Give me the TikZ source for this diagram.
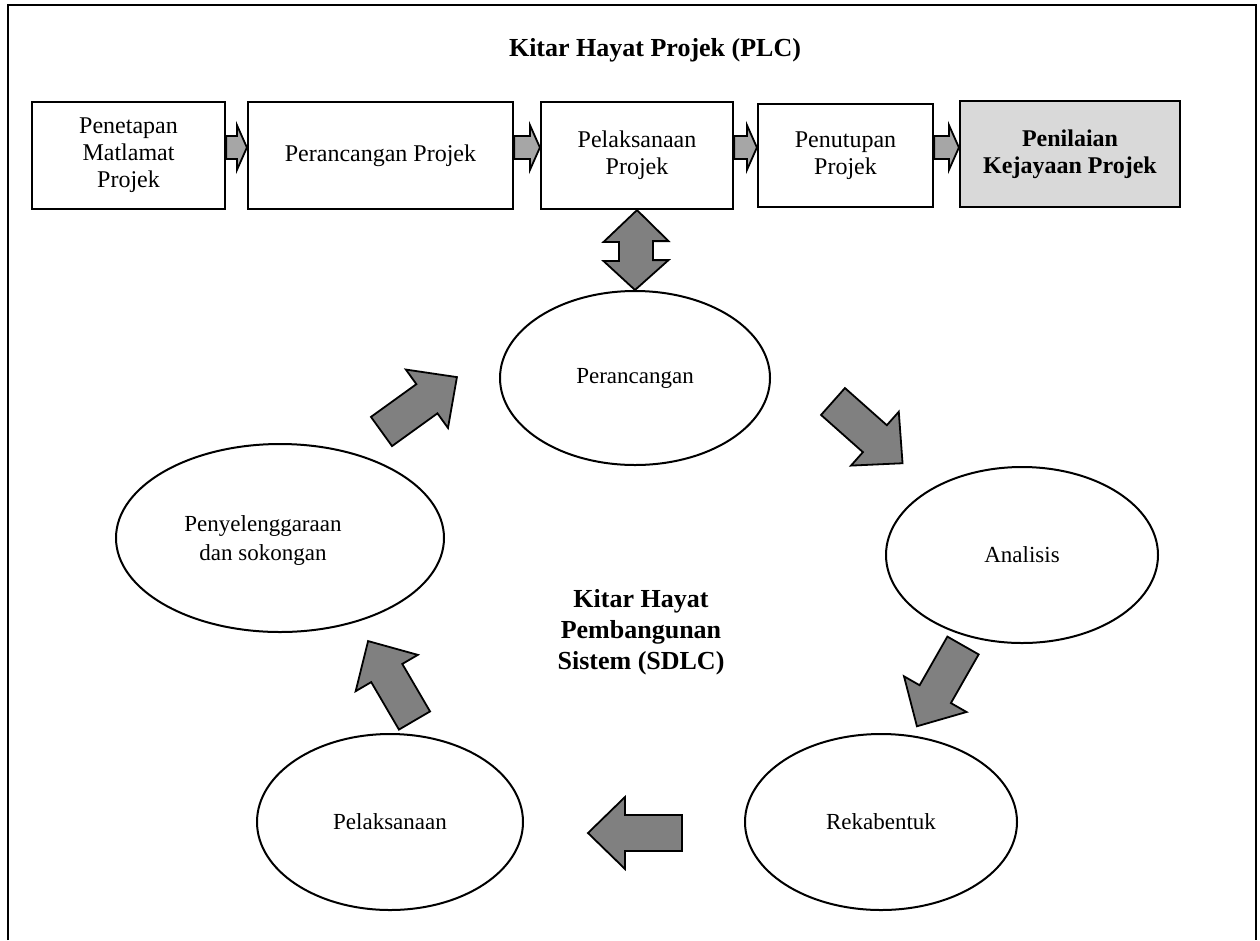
\documentclass[tikz,border=0pt]{standalone}
\usepackage{fontspec}
\setmainfont{Liberation Serif}
\usetikzlibrary{calc,shapes.geometric}
\definecolor{arrowgray}{HTML}{808080}
\definecolor{smallgray}{HTML}{A6A6A6}
\definecolor{boxgray}{HTML}{D9D9D9}
\newcommand\blockarr[3]{%
  \begin{scope}[shift={#1},rotate=#2]
    \filldraw[blockarrow] (0,-18) -- ({#3-37},-18) -- ({#3-37},-36) -- (#3,0)
      -- ({#3-37},36) -- ({#3-37},18) -- (0,18) -- cycle;
  \end{scope}}
\newcommand\smallarr[2]{%
  \filldraw[smallarrow] let \p1=(#1.east), \p2=(#2.west) in
    (\x1,\y1+19.5pt) -- (\x2-10pt,\y1+19.5pt) -- (\x2-10pt,\y1+30.5pt) -- (\x2,\y1+8pt)
    -- (\x2-10pt,\y1-14.5pt) -- (\x2-10pt,\y1-3.5pt) -- (\x1,\y1-3.5pt) -- cycle;}
\begin{document}
\begin{tikzpicture}[x=1pt,y=-1pt,
  box/.style={draw,line width=2.2pt,fill=white,inner sep=0pt,align=center,
    font=\fontsize{24}{27}\selectfont},
  oval/.style={draw,ellipse,line width=2pt,inner sep=0pt,align=center,
    font=\fontsize{23}{27}\selectfont},
  blockarrow/.style={fill=arrowgray,draw=black,line width=1.8pt,line join=miter},
  smallarrow/.style={fill=smallgray,draw=black,line width=1.8pt,line join=miter}]
\useasboundingbox[fill=white] (0,0) rectangle (1260,940);
\draw[line width=1.5pt] (8,940) -- (8,5) -- (1256,5) -- (1256,940);
\node[font=\bfseries\fontsize{26}{30}\selectfont] (title) at (655,50) {Kitar Hayat Projek (PLC)};
% top row
\node[box,minimum width=193,minimum height=107] (b1) at (128.5,155.5) {Penetapan\\Matlamat\\Projek};
\node[box,minimum width=265,minimum height=107] (b2) at (380.5,155.5) {Perancangan Projek};
\node[box,minimum width=192,minimum height=107] (b3) at (637,155.5) {Pelaksanaan\\Projek};
\node[box,minimum width=175,minimum height=103] (b4) at (845.5,155.5) {Penutupan\\Projek};
\node[box,fill=boxgray,minimum width=220,minimum height=106,font=\bfseries\fontsize{24}{27}\selectfont] (b5) at (1070,154) {Penilaian\\Kejayaan Projek};
\smallarr{b1}{b2}
\smallarr{b2}{b3}
\smallarr{b3}{b4}
\smallarr{b4}{b5}
% SDLC ellipses
\node[oval,minimum width=270,minimum height=174] (per) at (635,378) {Perancangan};
\node[oval,minimum width=272,minimum height=176] (ana) at (1022,555) {Analisis};
\node[oval,minimum width=328,minimum height=188] (pen) at (280,538) {};
\node[font=\fontsize{23}{29}\selectfont,align=center] (pentext) at (263,540) {Penyelenggaraan\\dan sokongan};
\node[oval,minimum width=266,minimum height=176] (pel) at (390,822) {Pelaksanaan};
\node[oval,minimum width=272,minimum height=176] (rek) at (881,822) {Rekabentuk};
\node[align=center,font=\bfseries\fontsize{26}{31}\selectfont] (sdlc) at (641,632) {Kitar Hayat\\Pembangunan\\Sistem (SDLC)};
% double arrow between PLC and SDLC
\filldraw[blockarrow] (b3.south) -- ++(31.5,31) -- ++(-15.5,0) -- ++(0,19) -- ++(15.5,0)
  -- (per.north) -- ++(-31.5,-29) -- ++(15.5,0) -- ++(0,-19) -- ++(-15.5,0) -- cycle;
% cycle arrows
\blockarr{(381.5,431.5)}{35.8}{93}
\blockarr{(833,401.5)}{-41.6}{93}
\blockarr{(963,645.5)}{-119.7}{93}
\blockarr{(682,833)}{180}{94}
\blockarr{(414.5,720.5)}{120.3}{92}
\end{tikzpicture}
\end{document}
